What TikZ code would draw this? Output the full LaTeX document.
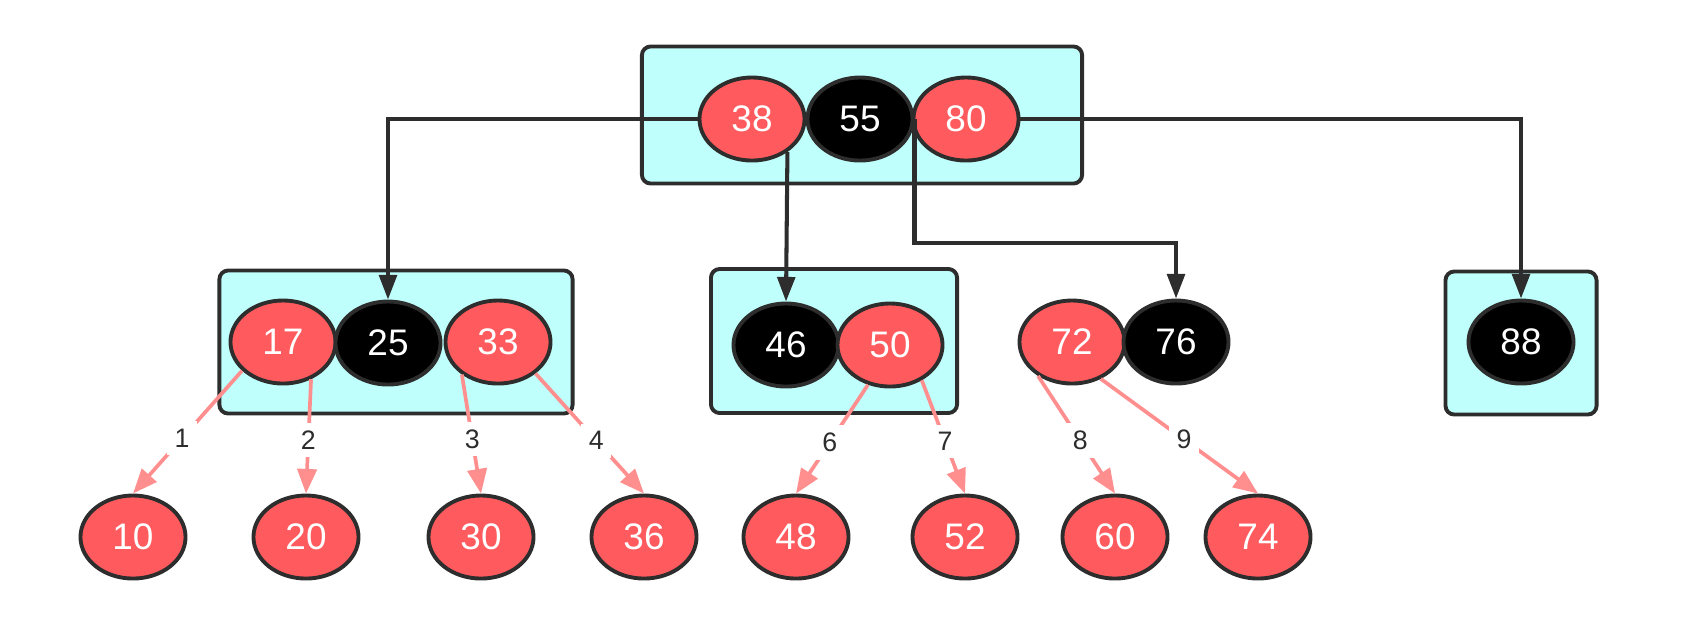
\documentclass[tikz,border=0pt]{standalone}
\usepackage{fontspec}
\setmainfont{Liberation Sans}
\usetikzlibrary{arrows.meta, shapes.geometric}
\definecolor{keyRed}{RGB}{255,91,94}
\definecolor{boxCyan}{RGB}{191,255,252}
\definecolor{edgePink}{RGB}{255,143,143}
\definecolor{lineGray}{RGB}{45,45,45}

\begin{document}
\begin{tikzpicture}[x=0.01cm, y=-0.01cm,
  keynode/.style={ellipse, draw=lineGray, line width=1.1pt, minimum width=1.05cm,
                  minimum height=0.83cm, inner sep=0pt, text=white,
                  font=\fontsize{10.5}{12}\selectfont},
  rnode/.style={keynode, fill=keyRed},
  bnode/.style={keynode, fill=black},
  keybox/.style={draw=lineGray, fill=boxCyan, line width=1.1pt, rounded corners=2.5pt},
  link/.style={draw=lineGray, line width=1.15pt, -{Triangle[length=7pt,width=5pt]}},
  child/.style={draw=edgePink, line width=1.05pt, -{Triangle[length=7pt,width=5.5pt]}},
  num/.style={fill=white, text=lineGray, inner sep=2.2pt, font=\fontsize{7.6}{9}\selectfont},
]
  \useasboundingbox (0,0) rectangle (1686,638);

  % boxes
  \node[keybox, minimum width=4.40cm, minimum height=1.37cm] (rootbox) at (862,115) {};
  \node[keybox, minimum width=3.53cm, minimum height=1.43cm] (leftbox) at (396,342) {};
  \node[keybox, minimum width=2.46cm, minimum height=1.44cm] (midbox) at (834,341) {};
  \node[keybox, minimum width=1.51cm, minimum height=1.43cm] (rightbox) at (1521,343) {};

  % keys
  \node[rnode] (n38) at (752,119) {38};
  \node[bnode] (n55) at (860,119) {55};
  \node[rnode] (n80) at (966,119) {80};

  \node[rnode] (n17) at (283,342) {17};
  \node[bnode] (n25) at (388,343) {25};
  \node[rnode] (n33) at (498,342) {33};

  \node[bnode] (n46) at (786,345) {46};
  \node[rnode] (n50) at (890,345) {50};

  \node[rnode] (n72) at (1072,342) {72};
  \node[bnode] (n76) at (1176,342) {76};

  \node[bnode] (n88) at (1521,342) {88};

  \node[rnode] (n10) at (133,537) {10};
  \node[rnode] (n20) at (306,537) {20};
  \node[rnode] (n30) at (481,537) {30};
  \node[rnode] (n36) at (644,537) {36};
  \node[rnode] (n48) at (796,537) {48};
  \node[rnode] (n52) at (965,537) {52};
  \node[rnode] (n60) at (1115,537) {60};
  \node[rnode] (n74) at (1258,537) {74};

  % top level links
  \draw[link] (n38.west) -| (n25.north);
  \draw[link] (n38.-43) -- (n46.north);
  \draw[link] (n55.east) -- ++(0,124) -| (n76.north);
  \draw[link] (n80.east) -| (n88.north);

  % children
  \draw[child] (n17.215) -- node[num, pos=0.55] {1} (n10.north);
  \draw[child] (n17.-53) -- node[num, pos=0.53] {2} (n20.north);
  \draw[child] (n33.222) -- node[num, pos=0.54] {3} (n30.north);
  \draw[child] (n33.-40) -- node[num, pos=0.56] {4} (n36.north);
  \draw[child] (n50.241) -- node[num, pos=0.53] {6} (n48.north);
  \draw[child] (n50.-48) -- node[num, pos=0.54] {7} (n52.north);
  \draw[child] (n72.225) -- node[num, pos=0.55] {8} (n60.north);
  \draw[child] (n72.-52) -- node[num, pos=0.53] {9} (n74.north);
\end{tikzpicture}
\end{document}
